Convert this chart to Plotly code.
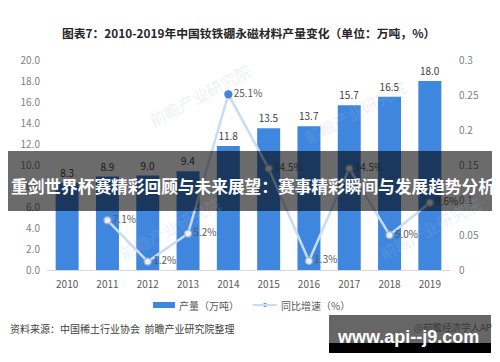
import plotly.graph_objects as go

years = ["2010", "2011", "2012", "2013", "2014", "2015", "2016", "2017", "2018", "2019"]
output = [8.3, 8.9, 9.0, 9.4, 11.8, 13.5, 13.7, 15.7, 16.5, 18.0]
growth_years = ["2011", "2012", "2013", "2014", "2015", "2016", "2017", "2018", "2019"]
growth = [0.071, 0.012, 0.052, 0.251, 0.145, 0.013, 0.145, 0.050, 0.096]

# page has an 8px body margin: the figure is placed at (8, 8)
OFF = 8
W, H = 500 - OFF, 362 - OFF
L, T = 47 - OFF, 60 - OFF
PW, PH = 403, 210
R = W - L - PW
B = H - T - PH


def px(x, y):
    """reference page pixel -> paper coordinates"""
    fx, fy = x - OFF, y - OFF
    return (fx - L) / PW, (T + PH - fy) / PH


FONT = "Noto Sans CJK SC, Noto Sans, sans-serif"
BLUE = "#3F86DF"
LINE = "#C9DCF5"

peak = growth.index(max(growth))
mcolors = [BLUE if i == peak else "#E9F0F9" for i in range(len(growth))]
mlines = [BLUE if i == peak else "#9DB2CB" for i in range(len(growth))]

fig = go.Figure()
fig.add_trace(go.Bar(
    x=years, y=output, name="产量（万吨）",
    marker=dict(color=BLUE, line=dict(width=0)),
    width=0.57,
    text=[f"{v:.1f}" for v in output], textposition="outside",
    textfont=dict(size=10, color="#404040", family=FONT),
    cliponaxis=False,
))
fig.add_trace(go.Scatter(
    x=growth_years, y=growth, name="同比增速（%）", yaxis="y2",
    mode="lines+markers+text",
    line=dict(color=LINE, width=2.5),
    marker=dict(size=7, color=mcolors, line=dict(color=mlines, width=1.3)),
    text=[f"{v*100:.1f}%" for v in growth], textposition="middle right",
    textfont=dict(size=10, color="#595959", family=FONT),
    cliponaxis=False,
))

shapes = []
annotations = []


def note(x, y, text, size, color, anchor="center", family=FONT, angle=0):
    ax, ay = px(x, y)
    annotations.append(dict(x=ax, y=ay, xref="paper", yref="paper", showarrow=False,
                            xanchor=anchor, yanchor="middle", text=text, textangle=angle,
                            font=dict(size=size, color=color, family=family)))


def rect(x0, y0, x1, y1, color, layer="below", kind="rect"):
    a, b_ = px(x0, y1)
    c, d = px(x1, y0)
    shapes.append(dict(type=kind, xref="paper", yref="paper", x0=a, y0=b_, x1=c, y1=d,
                       fillcolor=color, line=dict(width=0), layer=layer))


# title
note(248, 32, "<b>图表7：2010-2019年中国钕铁硼永磁材料产量变化（单位：万吨，%）</b>", 11.8, "#262626")

# faint watermarks
for (wx, wy) in [(200, 95), (355, 112), (170, 228), (430, 228)]:
    note(wx, wy, "前瞻产业研究院", 16, "rgba(170,185,205,0.22)", angle=-28)

# legend (manual)
rect(153, 302, 175, 308, BLUE)
note(177, 305, "产量（万吨）", 10, "#595959", anchor="left")
a, b_ = px(253, 305)
c, d = px(277, 305)
shapes.append(dict(type="line", xref="paper", yref="paper", x0=a, y0=b_, x1=c, y1=d,
                   line=dict(color=LINE, width=2)))
rect(263, 303, 267, 307, BLUE, kind="circle")
note(279, 305, "同比增速（%）", 10, "#595959", anchor="left")

# source
note(8, 328, "资料来源：中国稀土行业协会  前瞻产业研究院整理", 10, "#404040", anchor="left")

# watermark box bottom right
rect(329, 315, 491, 343, "#666666", layer="above")
rect(329, 343, 491, 353, "#000000", layer="above")
note(500, 327, "@前瞻经济学人APP", 9.5, "#3a3a3a", anchor="right")
note(408, 337, "<b>www.api--j9.com</b>", 18, "#FFFFFF", family="Liberation Sans, Arial, sans-serif")

# dark banner
rect(3, 151, 497, 211, "rgba(0,0,0,0.58)", layer="above")
note(252.5, 186, "<b>重剑世界杯赛精彩回顾与未来展望：赛事精彩瞬间与发展趋势分析</b>", 16.7, "#FFFFFF")

fig.update_layout(
    width=W, height=H,
    margin=dict(l=L, r=R, t=T, b=B, autoexpand=False),
    paper_bgcolor="white", plot_bgcolor="white",
    showlegend=False,
    font=dict(family=FONT, size=10, color="#595959"),
    xaxis=dict(type="category", showgrid=False, showline=True, linecolor="#D9D9D9", linewidth=1,
               ticks="", ticklabelstandoff=5, tickfont=dict(size=10, color="#595959"),
               range=[-0.5, 9.5]),
    yaxis=dict(range=[0, 20], dtick=2, tickformat=".1f", showgrid=False, zeroline=False,
               showline=False, ticks="", ticklabelstandoff=6, tickfont=dict(size=10, color="#7F7F7F")),
    yaxis2=dict(range=[0, 0.3], dtick=0.05, overlaying="y", side="right", showgrid=False,
                zeroline=False, showline=False, ticks="", ticklabelstandoff=8,
                tickfont=dict(size=10, color="#7F7F7F")),
    shapes=shapes,
    annotations=annotations,
)

fig.write_html("out.html")
